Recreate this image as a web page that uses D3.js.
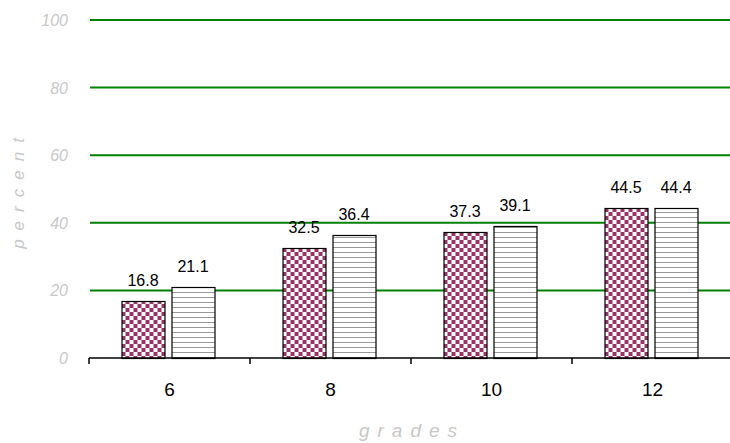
<!DOCTYPE html>
<html>
<head>
<meta charset="utf-8">
<script src="https://cdn.jsdelivr.net/npm/d3@7"></script>
<style>
  body { margin: 0; background: #fff; }
  svg text { font-family: Arial, "Liberation Sans", sans-serif; }
</style>
</head>
<body>
<div id="chart"></div>
<script>
// Data
var grades = ["6", "8", "10", "12"];
var seriesA = [16.8, 32.5, 37.3, 44.5];   // checkered bars
var seriesB = [21.1, 36.4, 39.1, 44.4];   // striped bars
var yTicks = [0, 20, 40, 60, 80, 100];

var width = 730, height = 443;
var plot = {left: 89, right: 733, top: 20, bottom: 358};

var svg = d3.select("#chart").append("svg")
    .attr("width", width)
    .attr("height", height);

// patterns
var defs = svg.append("defs");
var checker = defs.append("pattern")
    .attr("id", "checker")
    .attr("patternUnits", "userSpaceOnUse")
    .attr("width", 8).attr("height", 8);
checker.append("rect").attr("width", 8).attr("height", 8).attr("fill", "#fff");
checker.append("rect").attr("x", 0).attr("y", 0).attr("width", 4).attr("height", 4).attr("fill", "#993366");
checker.append("rect").attr("x", 4).attr("y", 4).attr("width", 4).attr("height", 4).attr("fill", "#993366");

var stripes = defs.append("pattern")
    .attr("id", "stripes")
    .attr("patternUnits", "userSpaceOnUse")
    .attr("width", 8).attr("height", 5);
stripes.append("rect").attr("width", 8).attr("height", 5).attr("fill", "#fff");
stripes.append("rect").attr("x", 0).attr("y", 2).attr("width", 8).attr("height", 1).attr("fill", "#999");

// Scales
var x0 = d3.scaleBand()
    .domain(grades)
    .range([plot.left, plot.right])
    .paddingInner(0.4224)
    .paddingOuter(0.2112);

var x1 = d3.scaleBand()
    .domain(["a", "b"])
    .range([0, x0.bandwidth()])
    .paddingInner(0.14);

var y = d3.scaleLinear()
    .domain([0, 100])
    .range([plot.bottom, plot.top]);

// Gridlines
svg.append("g")
    .selectAll("line")
    .data(yTicks.filter(function (d) { return d > 0; }))
    .join("line")
    .attr("x1", plot.left + 1)
    .attr("x2", plot.right)
    .attr("y1", function (d) { return y(d); })
    .attr("y2", function (d) { return y(d); })
    .attr("stroke", "#008000")
    .attr("stroke-width", 2);

// Y tick labels
svg.append("g")
    .selectAll("text")
    .data(yTicks)
    .join("text")
    .attr("x", 68)
    .attr("y", function (d) { return y(d) + 6; })
    .attr("text-anchor", "end")
    .attr("font-size", 16)
    .attr("font-style", "italic")
    .attr("fill", "#c8c8c8")
    .text(function (d) { return d; });

// Bars
var rows = grades.map(function (g, i) {
    return [{g: g, k: "a", v: seriesA[i]}, {g: g, k: "b", v: seriesB[i]}];
});

var groups = svg.append("g")
    .selectAll("g")
    .data(rows)
    .join("g")
    .attr("transform", function (d) { return "translate(" + (x0(d[0].g) - 1.5) + ",0)"; });

groups.selectAll("rect")
    .data(function (d) { return d; })
    .join("rect")
    .attr("x", function (d) { return Math.round(x1(d.k)) + 0.5; })
    .attr("y", function (d) { return Math.round(y(d.v)) + 0.5; })
    .attr("width", x1.bandwidth())
    .attr("height", function (d) { return plot.bottom - Math.round(y(d.v)); })
    .attr("fill", function (d) { return d.k === "a" ? "url(#checker)" : "url(#stripes)"; })
    .attr("stroke", "#000")
    .attr("stroke-width", 1.2);

groups.selectAll("text")
    .data(function (d) { return d; })
    .join("text")
    .attr("x", function (d) { return x1(d.k) + x1.bandwidth() / 2; })
    .attr("y", function (d) { return y(d.v) - 15; })
    .attr("text-anchor", "middle")
    .attr("font-size", 16)
    .attr("fill", "#000")
    .text(function (d) { return d.v.toFixed(1); });

// X axis
var xAxis = svg.append("g")
    .attr("transform", "translate(0," + plot.bottom + ")");
xAxis.append("line")
    .attr("x1", plot.left).attr("x2", plot.right)
    .attr("stroke", "#000").attr("stroke-width", 1.5);
xAxis.selectAll(".tick")
    .data(d3.range(grades.length + 1))
    .join("line")
    .attr("class", "tick")
    .attr("x1", function (i) { return plot.left + i * x0.step(); })
    .attr("x2", function (i) { return plot.left + i * x0.step(); })
    .attr("y1", 0).attr("y2", 6)
    .attr("stroke", "#000").attr("stroke-width", 1.5);
xAxis.selectAll(".lbl")
    .data(grades)
    .join("text")
    .attr("class", "lbl")
    .attr("x", function (d) { return x0(d) + x0.bandwidth() / 2; })
    .attr("y", 38)
    .attr("text-anchor", "middle")
    .attr("font-size", 19)
    .attr("fill", "#000")
    .text(function (d) { return d; });

// Axis titles
svg.append("text")
    .attr("transform", "translate(24," + ((plot.top + plot.bottom) / 2) + ") rotate(-90)")
    .attr("text-anchor", "middle")
    .attr("font-size", 17)
    .attr("font-style", "italic")
    .attr("letter-spacing", 9)
    .attr("fill", "#c8c8c8")
    .text("percent");

svg.append("text")
    .attr("x", 412)
    .attr("y", 437)
    .attr("text-anchor", "middle")
    .attr("font-size", 19)
    .attr("font-style", "italic")
    .attr("letter-spacing", 8)
    .attr("fill", "#c8c8c8")
    .text("grades");
</script>
</body>
</html>
